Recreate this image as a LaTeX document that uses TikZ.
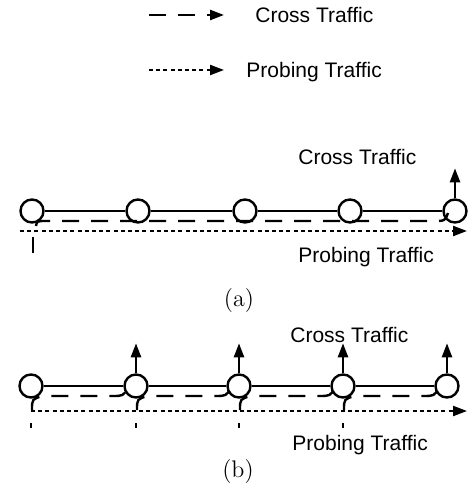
\documentclass[tikz,border=0pt]{standalone}
\usepackage{fontspec}
\usetikzlibrary{arrows.meta,calc,positioning}
\newfontfamily\flowfont{Liberation Sans}

\tikzset{
  router/.style={circle, draw, line width=1.2pt, minimum size=11.5pt, inner sep=0pt},
  link/.style={line width=1.2pt},
  crossflow/.style={line width=1.2pt, dash pattern=on 8.5pt off 6pt},
  probeflow/.style={line width=1.1pt, dash pattern=on 2pt off 1.6pt},
  flowtip/.style={-{Triangle[length=7pt,width=5pt]}},
  flowtext/.style={font=\flowfont\fontsize{10.5}{12}\selectfont, inner sep=0pt, anchor=base west},
  subcap/.style={font=\fontsize{12}{14}\selectfont, inner sep=0pt}
}

\begin{document}
\begin{tikzpicture}[x=0.5pt, y=-0.5pt]
\useasboundingbox (0,0) rectangle (471,491);

%% ── LEGEND ────────────────────────────────────────────────────────────
\coordinate (lcs) at (149,15);
\coordinate (lce) at (224,15);
\coordinate (lps) at (149,70);
\coordinate (lpe) at (224,70);
\draw[crossflow, flowtip] (lcs) -- (lce);
\draw[probeflow, flowtip] (lps) -- (lpe);
\node[flowtext] (lcross) at (255,23) {Cross Traffic};
\node[flowtext] (lprobe) at (246,78) {Probing Traffic};

%% ── PANEL (a): one cross flow over the whole path ─────────────────────
\foreach \n/\px in {1/32,2/138,3/245,4/350,5/455}{
  \node[router] (a\n) at (\px,211) {};
}
\foreach \n/\m in {1/2,2/3,3/4,4/5}{
  \draw[link] (a\n) -- (a\m);
}

% cross traffic enters at a1, leaves at a5
\draw[crossflow] ($(a1)+(4,15)$) .. controls ($(a1)+(5,10)$) .. ($(a1)+(14,10)$)
  -- ($(a5)+(-22,10)$) .. controls ($(a5)+(-10,10)$) .. ($(a5)+(-7,2)$);
\draw[link, flowtip] (a5.north) -- ($(a5.north)+(0,-30)$);

% probing traffic
\coordinate (aps) at (20,231);
\coordinate (ape) at (467,231);
\draw[probeflow, flowtip] (aps) -- (ape);
\draw[link] ($(a1)+(1,26)$) -- ($(a1)+(1,42)$);

\node[flowtext] (across) at (298,165) {Cross Traffic};
\node[flowtext] (aprobe) at (298,263) {Probing Traffic};
\node[subcap] (acap) at (239,301) {(a)};

%% ── PANEL (b): one cross flow per hop ─────────────────────────────────
\foreach \n/\px in {1/31,2/136,3/239,4/343,5/447}{
  \node[router] (b\n) at (\px,386) {};
}
\foreach \n/\m in {1/2,2/3,3/4,4/5}{
  \draw[link] (b\n) -- (b\m);
  \draw[crossflow] ($(b\n)+(1,24)$) .. controls ($(b\n)+(1,13)$) .. ($(b\n)+(12,10)$)
    -- ($(b\m)+(-24,10)$) .. controls ($(b\m)+(-13,10)$) .. ($(b\m)+(-8,2)$);
  \draw[link, flowtip] (b\m.north) -- ($(b\m.north)+(0,-30)$);
  \draw[link] ($(b\n)+(0,37)$) -- ($(b\n)+(0,42)$);
}

% probing traffic
\coordinate (bps) at (31,411);
\coordinate (bpe) at (467,411);
\draw[probeflow, flowtip] (bps) -- (bpe);

\node[flowtext] (bcross) at (290,342) {Cross Traffic};
\node[flowtext] (bprobe) at (292,450) {Probing Traffic};
\node[subcap] (bcap) at (238,472) {(b)};

\end{tikzpicture}
\end{document}
